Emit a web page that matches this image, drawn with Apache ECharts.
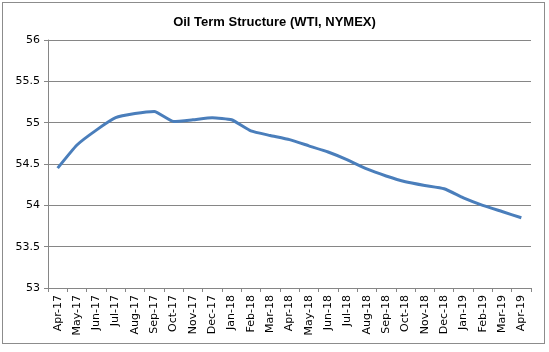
<!DOCTYPE html>
<html>
<head>
<meta charset="utf-8">
<script src="https://cdn.jsdelivr.net/npm/echarts@6/dist/echarts.min.js"></script>
<style>
  html, body { margin: 0; padding: 0; background: #fff; }
  #frame { position: absolute; left: 2px; top: 2px; width: 543px; height: 342px; border: 1px solid #8c8c8c; box-sizing: border-box; }
  #chart { position: absolute; left: 0; top: 0; width: 549px; height: 352px; }
</style>
</head>
<body>
<div id="frame"></div>
<div id="chart"></div>
<script>
const months = ['Apr-17', 'May-17', 'Jun-17', 'Jul-17', 'Aug-17', 'Sep-17', 'Oct-17', 'Nov-17', 'Dec-17',
  'Jan-18', 'Feb-18', 'Mar-18', 'Apr-18', 'May-18', 'Jun-18', 'Jul-18', 'Aug-18', 'Sep-18', 'Oct-18',
  'Nov-18', 'Dec-18', 'Jan-19', 'Feb-19', 'Mar-19', 'Apr-19'];
const prices = [54.45, 54.73, 54.91, 55.06, 55.11, 55.135, 55.015, 55.035, 55.06,
  55.035, 54.90, 54.845, 54.795, 54.72, 54.645, 54.55, 54.44, 54.355, 54.285,
  54.24, 54.20, 54.09, 54.00, 53.925, 53.85];
const yMin = 53;
const yMax = 56;
const yStep = 0.5;

const labelFont = 'DejaVu Sans';
const chart = echarts.init(document.getElementById('chart'));

chart.setOption({
  animation: false,
  title: {
    text: 'Oil Term Structure (WTI, NYMEX)',
    left: 'center',
    top: 11,
    textStyle: { fontFamily: 'Liberation Sans', fontWeight: 'bold', fontSize: 13, color: '#000' },
  },
  grid: { left: 48, right: 18, top: 40, bottom: 64, outerBoundsMode: 'none' },
  xAxis: {
    type: 'category',
    data: months,
    boundaryGap: true,
    axisLine: { lineStyle: { color: '#868686', width: 1 } },
    axisTick: { show: true, length: 4, lineStyle: { color: '#868686' } },
    axisLabel: { rotate: 90, interval: 0, margin: 7, fontFamily: labelFont, fontSize: 11, color: '#000' },
  },
  yAxis: {
    type: 'value',
    min: yMin,
    max: yMax,
    interval: yStep,
    axisLine: { show: true, lineStyle: { color: '#868686', width: 1 } },
    axisTick: { show: true, length: 4, lineStyle: { color: '#868686' } },
    axisLabel: { margin: 8, fontFamily: labelFont, fontSize: 11, color: '#000' },
    splitLine: { lineStyle: { color: '#868686', width: 1 } },
  },
  series: [
    {
      type: 'line',
      data: prices,
      smooth: 0.15,
      symbol: 'none',
      lineStyle: { color: '#4a7ebb', width: 3 },
    },
  ],
});
</script>
</body>
</html>
